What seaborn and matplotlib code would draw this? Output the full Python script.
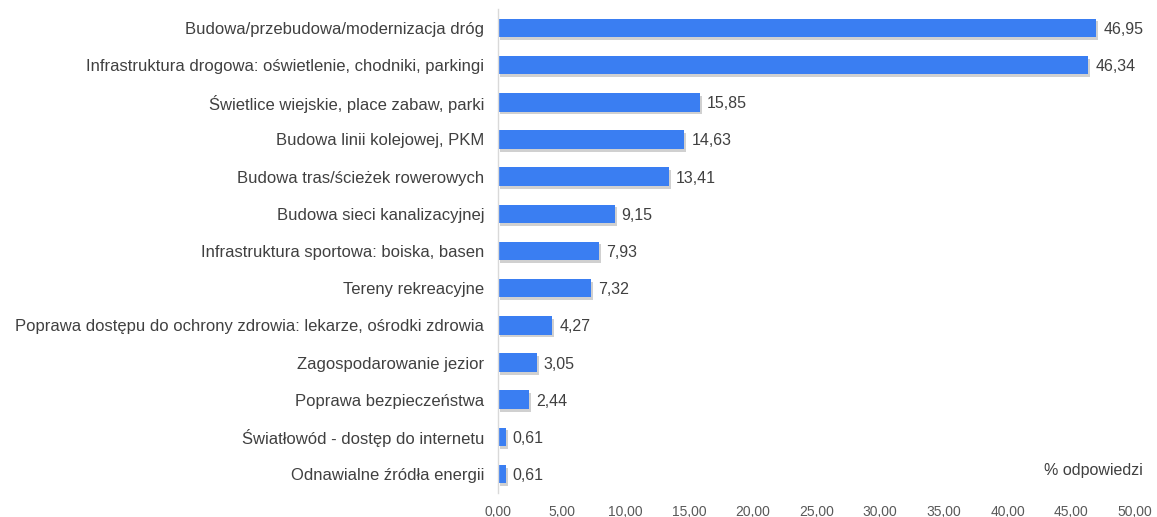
import pandas as pd
import matplotlib
matplotlib.use('Agg')
import matplotlib.pyplot as plt
import matplotlib.patheffects as pe
import seaborn as sns

categories = [
    "Budowa/przebudowa/modernizacja dróg",
    "Infrastruktura drogowa: oświetlenie, chodniki, parkingi",
    "Świetlice wiejskie, place zabaw, parki",
    "Budowa linii kolejowej, PKM",
    "Budowa tras/ścieżek rowerowych",
    "Budowa sieci kanalizacyjnej",
    "Infrastruktura sportowa: boiska, basen",
    "Tereny rekreacyjne",
    "Poprawa dostępu do ochrony zdrowia: lekarze, ośrodki zdrowia",
    "Zagospodarowanie jezior",
    "Poprawa bezpieczeństwa",
    "Światłowód - dostęp do internetu",
    "Odnawialne źródła energii",
]
values = [46.95, 46.34, 15.85, 14.63, 13.41, 9.15, 7.93, 7.32, 4.27, 3.05, 2.44, 0.61, 0.61]
xticks = [0, 5, 10, 15, 20, 25, 30, 35, 40, 45, 50]

df = pd.DataFrame({"kat": categories, "val": values})

sns.set_style("white")
plt.rcParams['font.family'] = ['Liberation Sans', 'DejaVu Sans']

f = plt.figure(figsize=(11.57, 5.17), dpi=100)
ax = f.add_axes([0.4304, 0.047, 0.5506, 0.935])

sns.barplot(data=df, x="val", y="kat", orient="h", color="#3A7EF2", saturation=1,
            width=0.5, linewidth=0, ax=ax)

for p in ax.patches:
    p.set_path_effects([pe.SimplePatchShadow(offset=(1.5, -2), shadow_rgbFace='#7a7a7a', alpha=0.35),
                        pe.Normal()])

for i, v in enumerate(values):
    ax.text(v + 0.55, i, f"{v:.2f}".replace(".", ","), va="center_baseline", ha="left",
            fontsize=11.5, color="#404040")

ax.set_xlim(0, 50)
ax.set_xticks(xticks)
ax.set_xticklabels([f"{t:.2f}".replace(".", ",") for t in xticks], fontsize=10, color="#595959")
ax.tick_params(axis="y", labelsize=12, labelcolor="#404040", length=0, pad=10)
ax.tick_params(axis="x", length=0, pad=9)
ax.set_xlabel("")
ax.set_ylabel("")

for s in ["top", "right", "bottom"]:
    ax.spines[s].set_visible(False)
ax.spines["left"].set_color("#D9D9D9")
ax.spines["left"].set_linewidth(1)

ax.text(0.935, 0.045, "% odpowiedzi", transform=ax.transAxes, ha="center", va="center",
        fontsize=11.5, color="#404040")

f.savefig("out.png", dpi=100)
